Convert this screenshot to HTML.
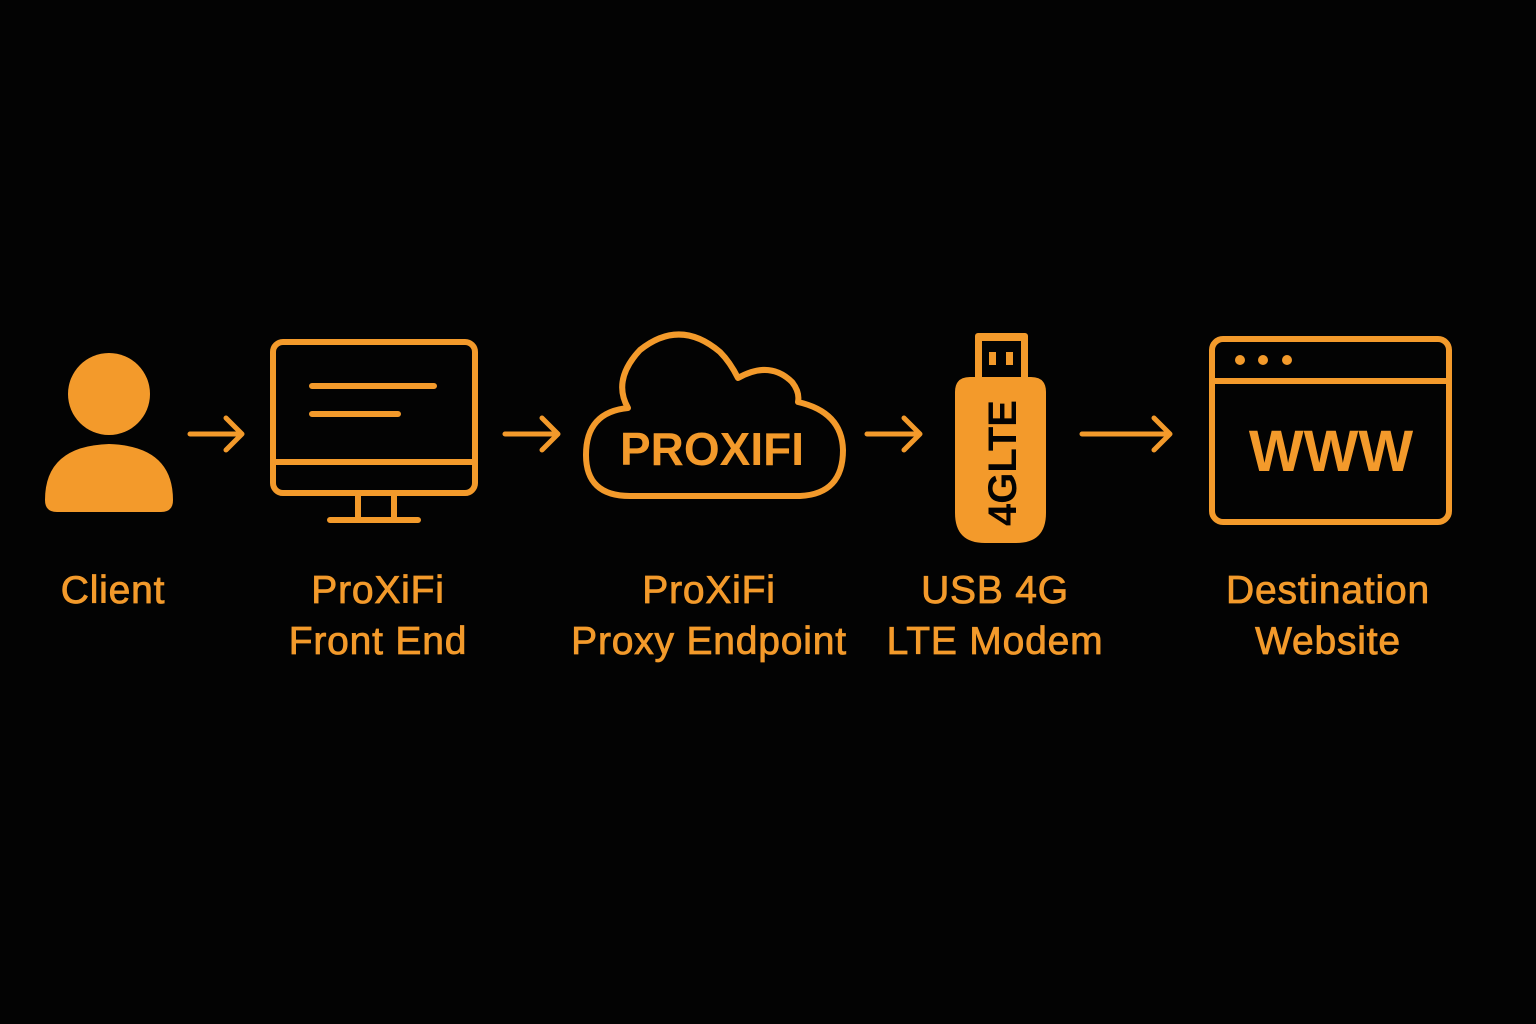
<!DOCTYPE html>
<html><head><style>
body{margin:0;background:#030303;width:1536px;height:1024px;overflow:hidden}
.l{position:absolute;color:#F39A2B;font-family:"Liberation Sans",sans-serif;font-size:39px;letter-spacing:0.8px;-webkit-text-stroke:0.8px #F39A2B;text-align:center;line-height:51px;transform:translateX(-50%);white-space:nowrap}
</style></head><body>
<svg width="1536" height="1024" style="position:absolute;left:0;top:0" fill="none" stroke="#F39A2B" stroke-linecap="round" stroke-linejoin="round">
<circle cx="109" cy="394" r="41" fill="#F39A2B" stroke="none"/>
<path d="M45 500 Q45 446 109 444 Q173 446 173 500 Q173 512 161 512 H57 Q45 512 45 500Z" fill="#F39A2B" stroke="none"/>
<g stroke-width="5">
<path d="M190 434H242M226 418L242 434L226 450"/>
<path d="M505 434H558M542 418L558 434L542 450"/>
<path d="M867 434H920M904 418L920 434L904 450"/>
<path d="M1082 434H1170M1154 418L1170 434L1154 450"/>
</g>
<rect x="273" y="342" width="202" height="151" rx="10" stroke-width="6"/>
<path d="M273 462H475M312 386H434M312 414H398M358 493V518M394 493V518M330 520H418" stroke-width="6"/>
<path d="M630 496 Q586 496 586 455 Q586 412 628 408 Q612 380 640 350 Q680 318 720 352 Q730 362 738 378 Q770 360 792 382 Q800 392 798 402 Q842 412 843 450 Q843 494 800 496 Z" stroke-width="6"/>
<text x="712" y="465" fill="#F39A2B" stroke="none" font-family="Liberation Sans,sans-serif" font-weight="bold" font-size="46" text-anchor="middle">PROXIFI</text>
<rect x="975" y="333" width="53" height="50" rx="3" fill="#F39A2B" stroke="none"/>
<rect x="982" y="341" width="39" height="42" fill="#030303" stroke="none"/>
<rect x="989" y="352" width="7" height="13" fill="#F39A2B" stroke="none"/>
<rect x="1006" y="352" width="7" height="13" fill="#F39A2B" stroke="none"/>
<path d="M955 392 Q955 377 970 377 H1031 Q1046 377 1046 392 V513 Q1046 543 1016 543 H985 Q955 543 955 513Z" fill="#F39A2B" stroke="none"/>
<text transform="translate(1016 463) rotate(-90)" fill="#030303" stroke="none" font-family="Liberation Sans,sans-serif" font-weight="bold" font-size="40" text-anchor="middle">4GLTE</text>
<rect x="1212" y="339" width="237" height="183" rx="11" stroke-width="6"/>
<path d="M1212 381H1449" stroke-width="6"/>
<circle cx="1240" cy="360" r="5" fill="#F39A2B" stroke="none"/>
<circle cx="1263" cy="360" r="5" fill="#F39A2B" stroke="none"/>
<circle cx="1287" cy="360" r="5" fill="#F39A2B" stroke="none"/>
<text x="1331" y="471" fill="#F39A2B" stroke="none" font-family="Liberation Sans,sans-serif" font-weight="bold" font-size="58" text-anchor="middle">WWW</text>
</svg>
<div class="l" style="left:113px;top:565px">Client</div>
<div class="l" style="left:378px;top:565px">ProXiFi<br>Front End</div>
<div class="l" style="left:709px;top:565px">ProXiFi<br>Proxy Endpoint</div>
<div class="l" style="left:995px;top:565px">USB 4G<br>LTE Modem</div>
<div class="l" style="left:1328px;top:565px">Destination<br>Website</div>
</body></html>
